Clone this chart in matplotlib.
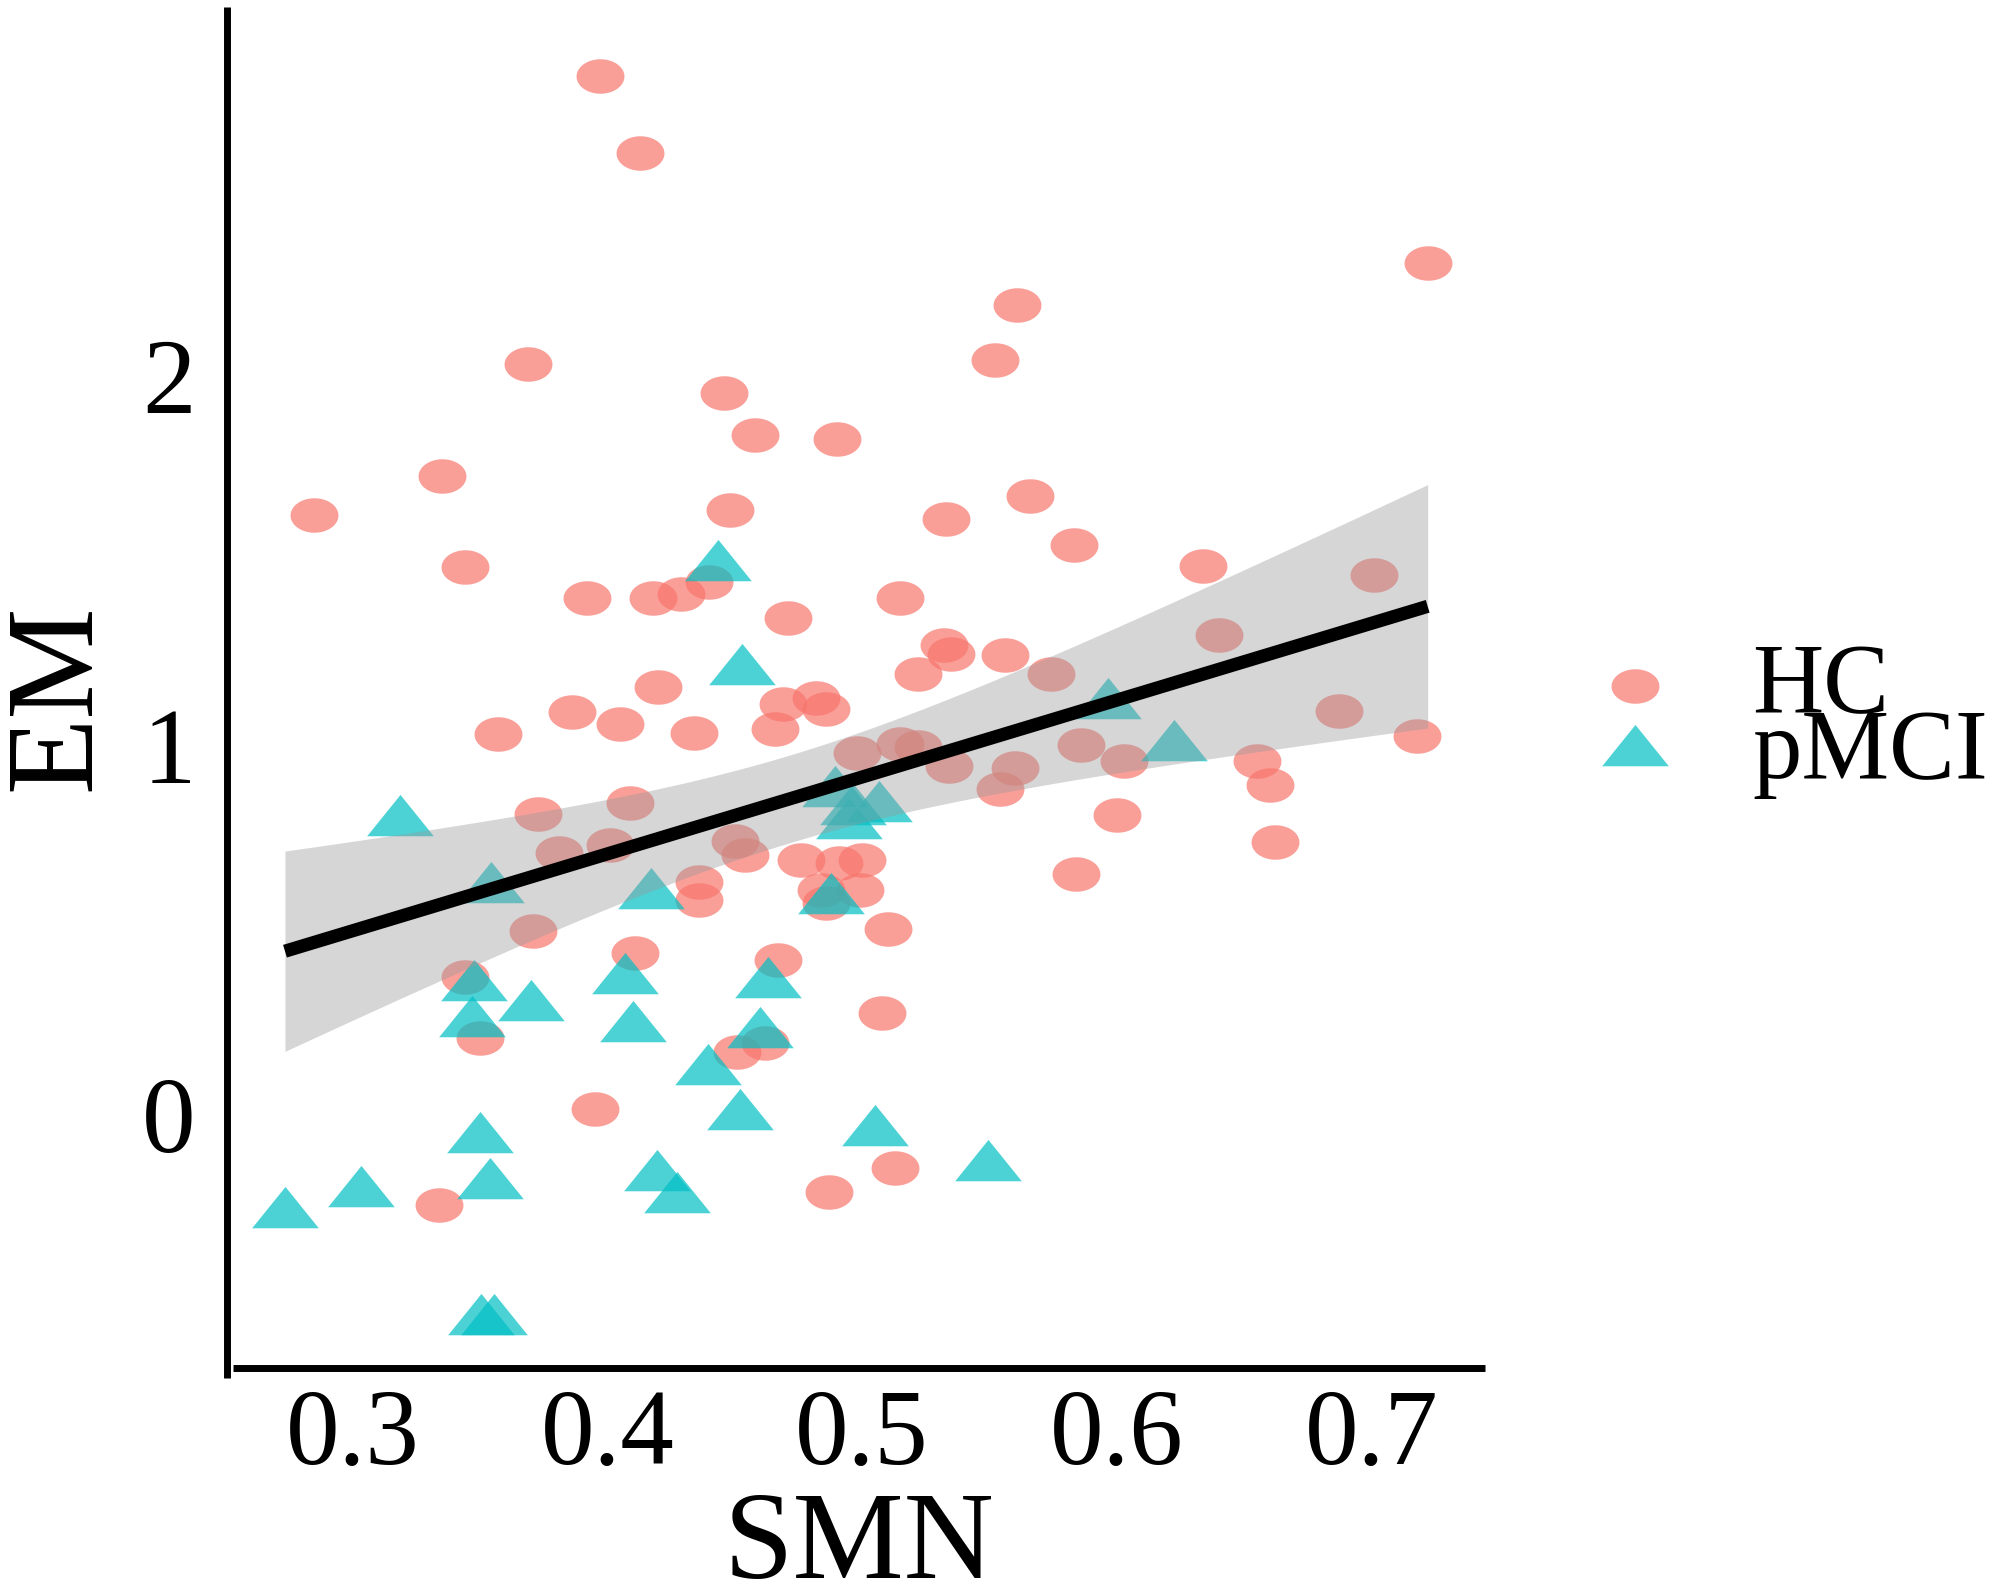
import numpy as np
import matplotlib
matplotlib.use("Agg")
import matplotlib.pyplot as plt
from matplotlib.path import Path
from matplotlib.lines import Line2D

# ---------------- data ----------------
hc_x = [0.397, 0.413, 0.722, 0.561, 0.552, 0.369, 0.446, 0.458, 0.490, 0.335,
        0.285, 0.448, 0.566, 0.533, 0.583, 0.344, 0.634, 0.701, 0.392, 0.418,
        0.429, 0.440, 0.515, 0.471, 0.640, 0.532, 0.535, 0.556, 0.522, 0.574,
        0.420, 0.386, 0.469, 0.482, 0.486, 0.405, 0.434, 0.466, 0.357, 0.687,
        0.498, 0.515, 0.522, 0.534, 0.560, 0.586, 0.603, 0.655, 0.718, 0.660,
        0.554, 0.373, 0.409, 0.600, 0.662, 0.584, 0.381, 0.401, 0.450, 0.454,
        0.476, 0.491, 0.500, 0.436, 0.436, 0.484, 0.499, 0.486, 0.510, 0.371,
        0.411, 0.467, 0.344, 0.350, 0.508, 0.462, 0.451, 0.395, 0.334, 0.487,
        0.513]
hc_y = [2.808, 2.601, 2.302, 2.189, 2.041, 2.030, 1.951, 1.838, 1.827, 1.728,
        1.621, 1.635, 1.673, 1.611, 1.542, 1.480, 1.484, 1.459, 1.398, 1.398,
        1.408, 1.442, 1.398, 1.343, 1.298, 1.271, 1.246, 1.243, 1.191, 1.191,
        1.157, 1.088, 1.112, 1.126, 1.098, 1.057, 1.033, 1.043, 1.030, 1.092,
        0.978, 1.002, 0.996, 0.944, 0.937, 0.999, 0.957, 0.957, 1.025, 0.892,
        0.882, 0.813, 0.844, 0.810, 0.737, 0.651, 0.708, 0.730, 0.741, 0.703,
        0.689, 0.681, 0.689, 0.631, 0.581, 0.607, 0.608, 0.572, 0.503, 0.497,
        0.438, 0.418, 0.373, 0.208, 0.276, 0.194, 0.170, 0.015, -0.243, -0.208,
        -0.143]

pmci_x = [0.4435, 0.453, 0.3185, 0.5965, 0.6225, 0.4895, 0.4965, 0.5065, 0.495, 0.3545,
          0.417, 0.488, 0.3475, 0.370, 0.347, 0.407, 0.410, 0.463, 0.460, 0.4395,
          0.452, 0.505, 0.350, 0.5495, 0.354, 0.4195, 0.4275, 0.3035, 0.2735, 0.3505,
          0.3555]
pmci_y = [1.482, 1.200, 0.791, 1.107, 0.994, 0.870, 0.822, 0.829, 0.784, 0.612,
          0.595, 0.581, 0.347, 0.292, 0.248, 0.365, 0.234, 0.354, 0.220, 0.120,
          -0.003, -0.045, -0.065, -0.141, -0.189, -0.169, -0.227, -0.210, -0.268, -0.557,
          -0.557]

groups = ["HC", "pMCI"]
x_ticks = [0.3, 0.4, 0.5, 0.6, 0.7]
x_ticklabels = ["0.3", "0.4", "0.5", "0.6", "0.7"]
y_ticks = [0, 1, 2]
y_ticklabels = ["0", "1", "2"]
x_label = "SMN"
y_label = "EM"

# ---------------- style ----------------
plt.rcParams["font.family"] = ["Liberation Serif", "DejaVu Serif"]
W, H = 1995, 1594
fig = plt.figure(figsize=(W / 100, H / 100), dpi=100)

ax_l, ax_r, ax_b, ax_t = 233, 1485, 1368, 7
ax = fig.add_axes([ax_l / W, 1 - ax_b / H, (ax_r - ax_l) / W, (ax_b - ax_t) / H])

# stretched markers (as in the reference)
t = np.linspace(0, 2 * np.pi, 73)
ellipse = Path(np.column_stack([0.5 * np.cos(t), 0.36 * np.sin(t)]), closed=True)
th = 0.62
triangle = Path([(0, 2 * th / 3), (-0.5, -th / 3), (0.5, -th / 3), (0, 2 * th / 3)], closed=True)

c_hc = "#F8766D"
c_pm = "#00BFC4"
ax.scatter(hc_x, hc_y, s=34.5 ** 2, marker=ellipse, color=c_hc, alpha=0.7,
           linewidths=0, label=groups[0], zorder=2)
ax.scatter(pmci_x, pmci_y, s=48 ** 2, marker=triangle, color=c_pm, alpha=0.7,
           linewidths=0, label=groups[1], zorder=2)

# linear fit with 95% CI (all points)
xa = np.array(hc_x + pmci_x)
ya = np.array(hc_y + pmci_y)
n = len(xa)
b1, b0 = np.polyfit(xa, ya, 1)
xs = np.linspace(xa.min(), xa.max(), 80)
yh = b0 + b1 * xs
res = ya - (b0 + b1 * xa)
s = np.sqrt(np.sum(res ** 2) / (n - 2))
sxx = np.sum((xa - xa.mean()) ** 2)
se = s * np.sqrt(1 / n + (xs - xa.mean()) ** 2 / sxx)
tq = 1.982
ax.fill_between(xs, yh - tq * se, yh + tq * se, color="#999999", alpha=0.4,
                linewidth=0, zorder=3)
ax.plot(xs, yh, color="black", lw=9.5, solid_capstyle="butt", zorder=4)

ax.set_xlim(0.2531, 0.7445)
ax.set_ylim(-0.684, 2.995)
ax.set_xticks(x_ticks)
ax.set_xticklabels(x_ticklabels)
ax.set_yticks(y_ticks)
ax.set_yticklabels(y_ticklabels)
ax.tick_params(axis="x", length=0, pad=15, labelsize=77)
ax.tick_params(axis="y", length=0, pad=27, labelsize=77)
for sp in ax.spines.values():
    sp.set_visible(False)
ax.set_facecolor("white")

ax.set_xlabel(x_label, fontsize=90)
ax.xaxis.label.set_verticalalignment("baseline")
ax.xaxis.set_label_coords(0.5, (ax_b - 1578) / (ax_b - ax_t))
ax.set_ylabel(y_label, fontsize=90)
ax.yaxis.label.set_verticalalignment("baseline")
ax.yaxis.set_label_coords((89 - ax_l) / (ax_r - ax_l), 0.493)

# axis lines (ggplot classic style)
fig.add_artist(Line2D([226.5 / W, 226.5 / W], [1 - 1378 / H, 1 - 7 / H],
                      transform=fig.transFigure, color="black", lw=5,
                      solid_capstyle="butt"))
fig.add_artist(Line2D([233 / W, 1485 / W], [1 - 1368 / H, 1 - 1368 / H],
                      transform=fig.transFigure, color="black", lw=5,
                      solid_capstyle="butt"))

leg = fig.legend(loc="center left", bbox_to_anchor=(1585.7 / W, 1 - 721 / H),
                 frameon=False, fontsize=71, handlelength=1.0,
                 handletextpad=0.69, borderpad=0, labelspacing=-0.24,
                 scatterpoints=1, borderaxespad=0)

fig.savefig("out.png", dpi=100, facecolor="white")
